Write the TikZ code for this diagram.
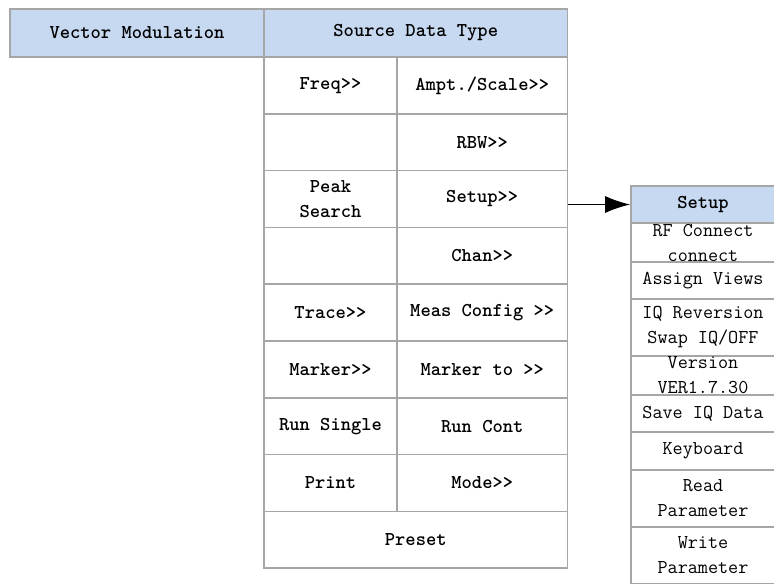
\documentclass[tikz,border=0pt]{standalone}
\usepackage{tikz}
\usetikzlibrary{arrows.meta}
\definecolor{hdrblue}{RGB}{198,217,241}
\definecolor{rulegray}{RGB}{166,166,166}
\newcommand{\menufont}{\ttfamily\fontsize{14.7}{18.75}\selectfont}

\begin{document}
\begin{tikzpicture}[x=0.75pt,y=-0.75pt,
  font=\menufont,
  cell/.style={rectangle,draw=rulegray,line width=1.2pt,inner sep=0pt,align=center},
  hdr/.style={cell,fill=hdrblue,minimum height=36pt,font=\menufont\bfseries},
  lkey/.style={cell,minimum width=99.75pt,minimum height=42.6pt,font=\menufont\bfseries},
  rkey/.style={cell,minimum width=127.9pt,minimum height=42.6pt,font=\menufont\bfseries},
  sub/.style={cell,minimum width=108pt},
  arr/.style={-{Latex[length=18.75pt,width=12.75pt]},line width=1.1pt,black}
]
\useasboundingbox (0,0) rectangle (774,583);
\clip (0,0) rectangle (774,583);
% top bar
\node[hdr,minimum width=190.5pt] (vm) at (137,33) {Vector Modulation};
\node[hdr,minimum width=227.6pt] (sdt) at (415.75,33) {Source Data Type};
% soft keys
\node[lkey] (freq) at (330.5,85.4) {Freq>>};
\node[rkey] (ampt) at (482.25,85.4) {Ampt./Scale>>};
\node[lkey] (e1) at (330.5,142.2) {};
\node[rkey] (rbw) at (482.25,142.2) {RBW>>};
\node[lkey] (peak) at (330.5,199) {Peak\\Search};
\node[rkey] (setup) at (482.25,199) {Setup>>};
\node[lkey] (e2) at (330.5,255.8) {};
\node[rkey] (chan) at (482.25,255.8) {Chan>>};
\node[lkey] (trace) at (330.5,312.6) {Trace>>};
\node[rkey] (meas) at (482.25,312.6) {Meas Config >>};
\node[lkey] (mkr) at (330.5,369.4) {Marker>>};
\node[rkey] (mkrto) at (482.25,369.4) {Marker to >>};
\node[lkey] (single) at (330.5,426.2) {Run Single};
\node[rkey] (cont) at (482.25,426.2) {Run Cont};
\node[lkey] (print) at (330.5,483) {Print};
\node[rkey] (mode) at (482.25,483) {Mode>>};
\node[lkey,minimum width=227.6pt] (preset) at (415.75,539.8) {Preset};
% setup menu
\node[sub,fill=hdrblue,minimum height=27.75pt,font=\menufont\bfseries] (sh) at (703,204.5) {Setup};
\node[sub,minimum height=29.25pt] (s1) at (703,242.5) {RF Connect\\connect};
\node[sub,minimum height=27.75pt] (s2) at (703,280.5) {Assign Views};
\node[sub,minimum height=42.75pt] (s3) at (703,327.5) {IQ Reversion\\Swap IQ/OFF};
\node[sub,minimum height=29.25pt] (s4) at (703,375.5) {Version\\VER1.7.30};
\node[sub,minimum height=27.75pt] (s5) at (703,413.5) {Save IQ Data};
\node[sub,minimum height=28.5pt] (s6) at (703,451) {Keyboard};
\node[sub,minimum height=42.75pt] (s7) at (703,498.5) {Read\\Parameter};
\node[sub,minimum height=42.75pt] (s8) at (703,555.5) {Write\\Parameter};
\draw[arr] (setup.east |- sh.west) -- (sh.west);
\end{tikzpicture}
\end{document}
